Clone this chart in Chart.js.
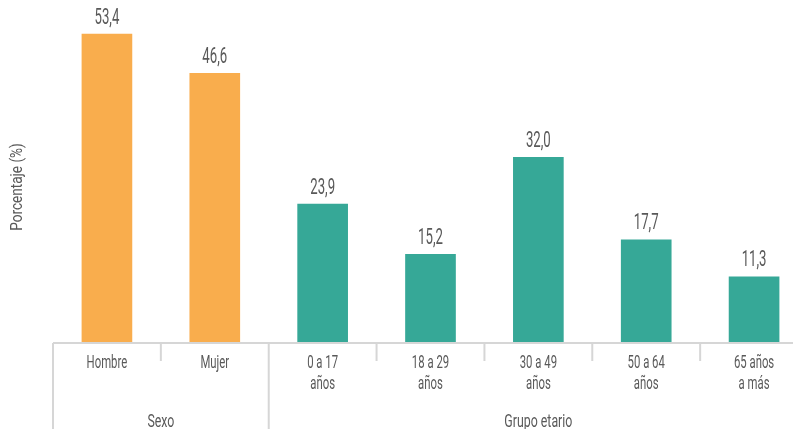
<!DOCTYPE html>
<html>
<head>
<meta charset="utf-8">
<script src="https://cdn.jsdelivr.net/npm/chart.js@4/dist/chart.umd.min.js"></script>
<style>
html,body{margin:0;padding:0;background:#fff;overflow:hidden;width:793px;height:429px;}
#wrap{width:808px;height:429px;position:relative;}
</style>
</head>
<body>
<div id="wrap"><canvas id="c"></canvas></div>
<script>
const categories = [["Hombre"],["Mujer"],["0 a 17","años"],["18 a 29","años"],["30 a 49","años"],["50 a 64","años"],["65 años","a más"]];
const values = [53.4, 46.6, 23.9, 15.2, 32.0, 17.7, 11.3];
const groups = ["Sexo", "Grupo etario"];
const groupSizes = [2, 5];
const groupColors = ["#F9AD4D", "#36A897"];
const yTitle = "Porcentaje (%)";

const FONT = 'Roboto, "Liberation Sans", sans-serif';
const TEXT = "#595959";
const LINE = "#d6d6d6";

const barColors = [];
groupSizes.forEach((n, g) => { for (let i = 0; i < n; i++) barColors.push(groupColors[g]); });

function condText(ctx, t, x, y, size, sx) {
  ctx.save();
  ctx.font = size + 'px ' + FONT;
  ctx.textAlign = 'center';
  ctx.textBaseline = 'middle';
  ctx.translate(x, y);
  ctx.scale(sx, 1);
  ctx.fillText(t, 0, 0);
  ctx.restore();
}

const deco = {
  id: 'deco',
  afterDatasetsDraw(chart) {
    const ctx = chart.ctx, xs = chart.scales.x, area = chart.chartArea;
    const half = (xs.getPixelForValue(1) - xs.getPixelForValue(0)) / 2;
    const base = area.bottom + 1;
    ctx.save();
    ctx.fillStyle = TEXT;
    // data labels
    const meta = chart.getDatasetMeta(0);
    meta.data.forEach((bar, i) => {
      condText(ctx, values[i].toFixed(1).replace('.', ','), bar.x, bar.y - 16, 22, 0.6);
    });
    // axis line
    ctx.strokeStyle = LINE;
    ctx.lineWidth = 2;
    const left = xs.getPixelForValue(0) - half;
    ctx.beginPath();
    ctx.moveTo(left, base);
    ctx.lineTo(chart.width, base);
    ctx.stroke();
    // separators
    let start = 0;
    const groupBounds = [];
    groupSizes.forEach(n => { groupBounds.push(start); start += n; });
    for (let i = 0; i < categories.length; i++) {
      const x = xs.getPixelForValue(i) - half;
      const full = groupBounds.includes(i);
      ctx.beginPath();
      ctx.moveTo(x, base);
      ctx.lineTo(x, full ? chart.height : base + 18);
      ctx.stroke();
    }
    // tick labels
    categories.forEach((lines, i) => {
      const x = xs.getPixelForValue(i);
      lines.forEach((t, j) => condText(ctx, t, x, base + 20 + j * 21, 18, 0.63));
    });
    // group labels
    let s = 0;
    groups.forEach((g, k) => {
      const x0 = xs.getPixelForValue(s) - half;
      const x1 = xs.getPixelForValue(s + groupSizes[k] - 1) + half;
      condText(ctx, g, (x0 + x1) / 2, base + 79, 19, 0.65);
      s += groupSizes[k];
    });
    // y title
    ctx.save();
    ctx.translate(18, 187);
    ctx.rotate(-Math.PI / 2);
    condText(ctx, yTitle, 0, 0, 17, 0.8);
    ctx.restore();
    ctx.restore();
  }
};

new Chart(document.getElementById('c'), {
  type: 'bar',
  data: {
    labels: categories,
    datasets: [{
      data: values,
      backgroundColor: barColors,
      borderWidth: 0,
      barThickness: 50
    }]
  },
  options: {
    responsive: true,
    maintainAspectRatio: false,
    animation: false,
    layout: { padding: { left: 53, right: 0, top: 0, bottom: 87 } },
    plugins: { legend: { display: false }, tooltip: { enabled: false } },
    scales: {
      x: { display: false },
      y: { display: false, min: 0, max: 59.3 }
    }
  },
  plugins: [deco]
});
</script>
</body>
</html>
